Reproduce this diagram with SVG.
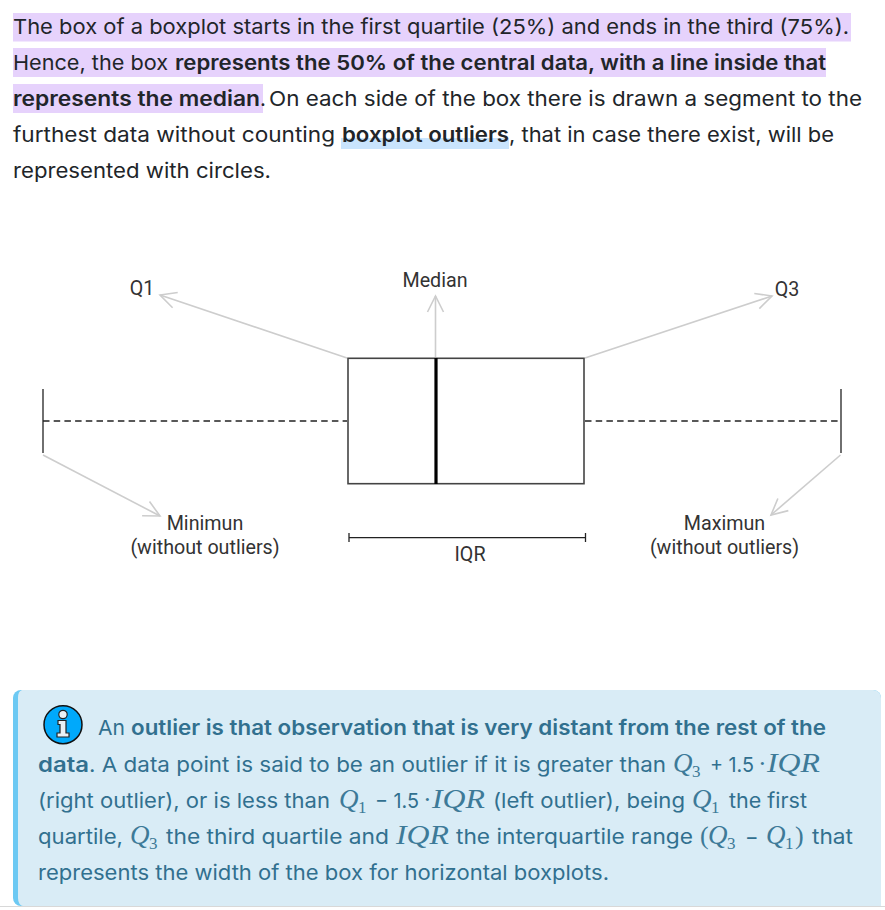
<svg xmlns="http://www.w3.org/2000/svg" width="885" height="910" viewBox="0 0 885 910">
<style>
text{font-family:"Inter","Noto Sans","Liberation Sans",sans-serif}
.p{font-size:20.5px;fill:#212529}
.n{font-size:20.5px;fill:#31708f}
.b{font-weight:600}
.lab{font-family:"Roboto","Liberation Sans",sans-serif;font-size:19.7px;fill:#333}
.m{font-family:"Liberation Serif","DejaVu Serif",serif;font-style:italic;font-size:27px;fill:#3d7a98}
.s{font-family:"Liberation Serif","DejaVu Serif",serif;font-size:17px;fill:#3d7a98}
.mu{font-family:"Liberation Serif","DejaVu Serif",serif;font-size:26px;fill:#3d7a98}
.arrow{fill:none;stroke:#cdcdcd;stroke-width:1.6;marker-end:url(#open)}
.plot{fill:none;stroke:#444;stroke-width:1.6}
.dash{fill:none;stroke:#222;stroke-width:1.3;stroke-dasharray:6.5 4.2}
.tick{fill:none;stroke:#222;stroke-width:1.3}
</style>
<defs>
<marker id="open" markerUnits="userSpaceOnUse" markerWidth="22" markerHeight="22" refX="20" refY="11" orient="auto" overflow="visible">
<path d="M4,3 L20,11 L4,19" fill="none" stroke="#cdcdcd" stroke-width="1.6"/>
</marker>
</defs>
<rect width="885" height="910" fill="#fff"/>

<g id="intro">
<rect x="13" y="13" width="838" height="28.500" fill="#e6d2fc"/>
<rect x="13" y="48" width="813" height="29" fill="#e6d2fc"/>
<rect x="13" y="84" width="250" height="29" fill="#e6d2fc"/>
<rect x="341" y="138" width="168" height="11" fill="#c9e4fd"/>
<text class="p" x="13" y="34" textLength="836" lengthAdjust="spacingAndGlyphs">The box of a boxplot starts in the first quartile (25%) and ends in the third (75%).</text>
<text class="p" x="13" y="70" textLength="155" lengthAdjust="spacingAndGlyphs">Hence, the box</text>
<text class="p b" x="175" y="70" textLength="651" lengthAdjust="spacingAndGlyphs">represents the 50% of the central data, with a line inside that</text>
<text class="p b" x="13" y="106" textLength="247" lengthAdjust="spacingAndGlyphs">represents the median</text>
<text class="p" x="260" y="106">.</text>
<text class="p" x="269" y="106" textLength="593" lengthAdjust="spacingAndGlyphs">On each side of the box there is drawn a segment to the</text>
<text class="p" x="13" y="142" textLength="322" lengthAdjust="spacingAndGlyphs">furthest data without counting</text>
<text class="p b" x="342" y="142" textLength="167" lengthAdjust="spacingAndGlyphs">boxplot outliers</text>
<text class="p" x="509" y="142" textLength="325" lengthAdjust="spacingAndGlyphs">, that in case there exist, will be</text>
<text class="p" x="13" y="178" textLength="258" lengthAdjust="spacingAndGlyphs">represented with circles.</text>
</g>

<g id="connectors">
<line class="arrow" x1="347" y1="358" x2="160" y2="295"/>
<line class="arrow" x1="435.500" y1="357" x2="435.500" y2="296"/>
<line class="arrow" x1="585" y1="358" x2="772" y2="296"/>
<line class="arrow" x1="43" y1="455" x2="160" y2="516"/>
<line class="arrow" x1="840.500" y1="455" x2="771" y2="515"/>
</g>

<g id="box">
<rect class="plot" x="348" y="358.300" width="236" height="125.400"/>
<line x1="436" y1="358" x2="436" y2="484" stroke="#000" stroke-width="3.200"/>
</g>
<g id="whisker-left">
<line class="tick" x1="43" y1="389" x2="43" y2="453"/>
<line class="dash" x1="43" y1="421" x2="347" y2="421"/>
</g>
<g id="whisker-right">
<line class="dash" x1="585" y1="421" x2="841" y2="421"/>
<line class="tick" x1="841" y1="389" x2="841" y2="453"/>
</g>
<g id="iqr-bar">
<line class="tick" x1="349" y1="537.700" x2="585.500" y2="537.700"/>
<line class="tick" x1="349" y1="533" x2="349" y2="542"/>
<line class="tick" x1="585.500" y1="533" x2="585.500" y2="542"/>
<text class="lab" x="470" y="560.500" text-anchor="middle">IQR</text>
</g>
<g id="label-q1"><text class="lab" x="142" y="294.500" text-anchor="middle">Q1</text></g>
<g id="label-median"><text class="lab" x="435" y="286.500" text-anchor="middle">Median</text></g>
<g id="label-q3"><text class="lab" x="787" y="295.500" text-anchor="middle">Q3</text></g>
<g id="label-min">
<text class="lab" x="205" y="529.500" text-anchor="middle">Minimun</text>
<text class="lab" x="205" y="553.500" text-anchor="middle">(without outliers)</text>
</g>
<g id="label-max">
<text class="lab" x="724.500" y="529.500" text-anchor="middle">Maximun</text>
<text class="lab" x="724.500" y="553.500" text-anchor="middle">(without outliers)</text>
</g>

<g id="note">
<line x1="0" y1="906.500" x2="885" y2="906.500" stroke="#d8d8d8" stroke-width="1"/>
<rect x="13" y="690" width="868" height="216" rx="8" fill="#6cc9f3"/>
<path d="M22,690 H873 a8,8 0 0 1 8,8 V906 H23 a5,8 0 0 1 -5,-8 V698 a5,8 0 0 1 4,-8 Z" fill="#d9ecf6"/>
<g id="note-icon">
<circle cx="63" cy="724.700" r="19" fill="#00a9fb" stroke="#111" stroke-width="1.500"/>
<circle cx="63" cy="714.500" r="4.200" fill="#e8f1f6" stroke="#222" stroke-width="1.200"/>
<path d="M58,720.500 H66 V733 H69 V737 H57 V733 H60 V724.500 H58 Z" fill="#e8f1f6" stroke="#222" stroke-width="1.200"/>
</g>
<text class="n" x="98" y="735" textLength="27" lengthAdjust="spacingAndGlyphs">An</text>
<text class="n b" x="131" y="735" textLength="695" lengthAdjust="spacingAndGlyphs">outlier is that observation that is very distant from the rest of the</text>

<text class="n b" x="38" y="771.500" textLength="51" lengthAdjust="spacingAndGlyphs">data</text>
<text class="n" x="89" y="771.500" textLength="577" lengthAdjust="spacingAndGlyphs">. A data point is said to be an outlier if it is greater than</text>
<text class="m" x="673" y="771.500">Q</text>
<text class="s" x="692" y="776.500">3</text>
<text class="n" x="710" y="771.500" textLength="44" lengthAdjust="spacingAndGlyphs">+ 1.5</text>
<text class="mu" x="758" y="771.500">·</text>
<text class="m" x="767" y="771.500" textLength="53" lengthAdjust="spacingAndGlyphs">IQR</text>

<text class="n" x="38" y="808" textLength="292" lengthAdjust="spacingAndGlyphs">(right outlier), or is less than</text>
<text class="m" x="339" y="808">Q</text>
<text class="s" x="358" y="813">1</text>
<text class="n" x="375" y="808" textLength="44" lengthAdjust="spacingAndGlyphs">− 1.5</text>
<text class="mu" x="423" y="808">·</text>
<text class="m" x="432" y="808" textLength="53" lengthAdjust="spacingAndGlyphs">IQR</text>
<text class="n" x="493" y="808" textLength="192" lengthAdjust="spacingAndGlyphs">(left outlier), being</text>
<text class="m" x="692" y="808">Q</text>
<text class="s" x="711" y="813">1</text>
<text class="n" x="729" y="808" textLength="78" lengthAdjust="spacingAndGlyphs">the first</text>

<text class="n" x="38" y="844" textLength="85" lengthAdjust="spacingAndGlyphs">quartile,</text>
<text class="m" x="130" y="844">Q</text>
<text class="s" x="149" y="849">3</text>
<text class="n" x="166" y="844" textLength="223" lengthAdjust="spacingAndGlyphs">the third quartile and</text>
<text class="m" x="396" y="844" textLength="53" lengthAdjust="spacingAndGlyphs">IQR</text>
<text class="n" x="456" y="844" textLength="237" lengthAdjust="spacingAndGlyphs">the interquartile range</text>
<text class="mu" x="700" y="844">(</text>
<text class="m" x="708" y="844">Q</text>
<text class="s" x="727" y="849">3</text>
<text class="n" x="745" y="844">−</text>
<text class="m" x="766" y="844">Q</text>
<text class="s" x="785" y="849">1</text>
<text class="mu" x="795" y="844">)</text>
<text class="n" x="812" y="844" textLength="41" lengthAdjust="spacingAndGlyphs">that</text>

<text class="n" x="38" y="880" textLength="571" lengthAdjust="spacingAndGlyphs">represents the width of the box for horizontal boxplots.</text>
</g>
</svg>
